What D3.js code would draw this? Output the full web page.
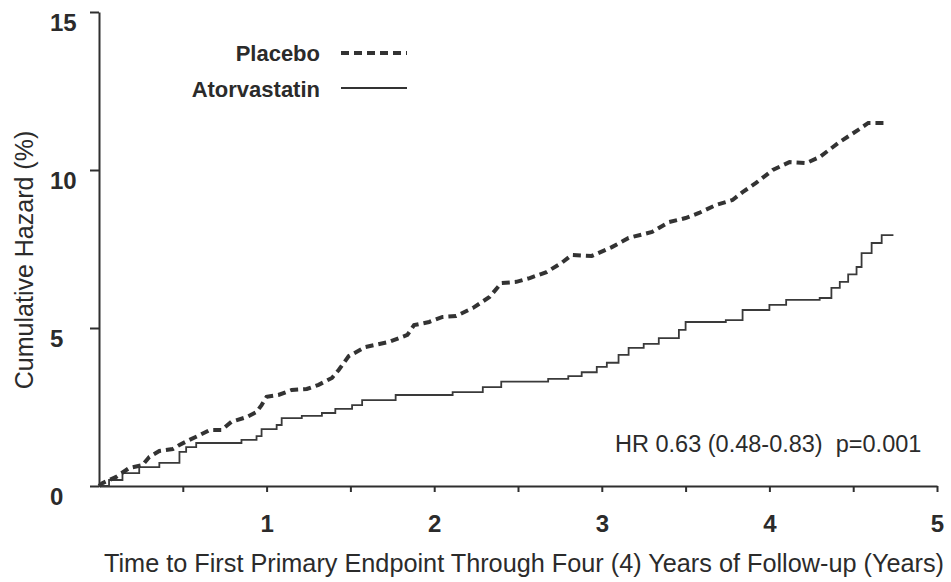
<!DOCTYPE html>
<html>
<head>
<meta charset="utf-8">
<script src="https://cdn.jsdelivr.net/npm/d3@7"></script>
<style>
  html, body { margin: 0; padding: 0; background: #fff; }
  svg { display: block; }
  text { font-family: "Liberation Sans", Arial, sans-serif; fill: #2b2b2b; }
</style>
</head>
<body>
<svg id="chart" width="951" height="582"></svg>
<script>
// ---- data ----
const placeboTime = [0, 0.02, 0.10, 0.18, 0.26, 0.30, 0.36, 0.44, 0.48, 0.54, 0.60, 0.66, 0.73, 0.79, 0.88, 0.94, 0.97, 1.00, 1.07, 1.15, 1.24, 1.31, 1.39, 1.43, 1.49, 1.59, 1.73, 1.84, 1.88, 1.97, 2.05, 2.13, 2.23, 2.33, 2.40, 2.49, 2.57, 2.67, 2.76, 2.82, 2.94, 3.06, 3.16, 3.30, 3.40, 3.50, 3.58, 3.68, 3.78, 3.84, 3.92, 4.02, 4.12, 4.22, 4.30, 4.42, 4.53, 4.59, 4.70];
const placeboValue = [0, 0.09, 0.28, 0.57, 0.66, 0.92, 1.11, 1.17, 1.30, 1.46, 1.61, 1.77, 1.77, 2.03, 2.18, 2.34, 2.56, 2.82, 2.88, 3.04, 3.07, 3.20, 3.42, 3.67, 4.11, 4.40, 4.56, 4.78, 5.09, 5.19, 5.35, 5.38, 5.63, 5.98, 6.42, 6.46, 6.58, 6.77, 7.06, 7.31, 7.28, 7.56, 7.85, 8.04, 8.35, 8.48, 8.64, 8.89, 9.05, 9.30, 9.59, 10.00, 10.25, 10.22, 10.41, 10.89, 11.27, 11.49, 11.49];

const atorvaTime = [0, 0.06, 0.14, 0.24, 0.36, 0.48, 0.52, 0.58, 0.85, 0.94, 0.97, 1.06, 1.09, 1.21, 1.33, 1.41, 1.51, 1.57, 1.77, 2.11, 2.29, 2.40, 2.68, 2.80, 2.88, 2.97, 3.03, 3.10, 3.16, 3.25, 3.34, 3.46, 3.50, 3.74, 3.84, 4.00, 4.10, 4.30, 4.37, 4.42, 4.47, 4.52, 4.55, 4.61, 4.67, 4.74];
const atorvaValue = [0, 0.19, 0.41, 0.60, 0.73, 1.08, 1.23, 1.36, 1.46, 1.58, 1.80, 1.93, 2.15, 2.22, 2.31, 2.44, 2.56, 2.72, 2.88, 2.97, 3.13, 3.30, 3.39, 3.48, 3.60, 3.77, 3.90, 4.15, 4.37, 4.50, 4.68, 4.94, 5.19, 5.25, 5.57, 5.73, 5.89, 5.95, 6.27, 6.46, 6.70, 6.93, 7.37, 7.69, 7.94, 7.94];

const seriesNames = ["Placebo", "Atorvastatin"];
const xTicks = [0.5, 1, 1.5, 2, 2.5, 3, 3.5, 4, 4.5, 5];
const xTickLabels = [1, 2, 3, 4, 5];
const yTicks = [0, 5, 10, 15];
const xTitle = "Time to First Primary Endpoint Through Four (4) Years of Follow-up (Years)";
const yTitle = "Cumulative Hazard (%)";
const annotation = "HR 0.63 (0.48-0.83)  p=0.001";

// ---- drawing ----
const svg = d3.select("#chart");
const ink = "#2f2f2f";

const x = d3.scaleLinear().domain([0, 5]).range([99, 937]);
const y = d3.scaleLinear().domain([0, 15]).range([486, 12]);

// y axis
const yAxis = svg.append("g")
  .attr("transform", `translate(${x(0)},0)`)
  .call(d3.axisLeft(y).tickValues(yTicks).tickSize(9).tickSizeOuter(0).tickPadding(0));
yAxis.select(".domain").attr("stroke", ink).attr("stroke-width", 2);
yAxis.selectAll(".tick line").attr("stroke", ink).attr("stroke-width", 2);
yAxis.selectAll(".tick text")
  .attr("x", -49).attr("dy", 0).attr("y", 18)
  .attr("text-anchor", "start")
  .style("font-family", "'Liberation Sans', Arial, sans-serif")
  .style("font-size", "24px").style("font-weight", "bold").attr("fill", "#2b2b2b");

// x axis
const xAxis = svg.append("g")
  .attr("transform", `translate(0,${y(0)})`)
  .call(d3.axisBottom(x).tickValues(xTicks).tickSize(6).tickSizeOuter(0)
    .tickFormat(d => xTickLabels.includes(d) ? d3.format("d")(d) : ""));
xAxis.select(".domain").attr("stroke", ink).attr("stroke-width", 2);
xAxis.selectAll(".tick line").attr("stroke", ink).attr("stroke-width", 2);
xAxis.selectAll(".tick text")
  .attr("y", 46).attr("dy", 0)
  .style("font-family", "'Liberation Sans', Arial, sans-serif")
  .style("font-size", "24px").style("font-weight", "bold").attr("fill", "#2b2b2b");

// lines
const placebo = placeboTime.map((t, i) => [t, placeboValue[i]]);
const atorva = atorvaTime.map((t, i) => [t, atorvaValue[i]]);

svg.append("path")
  .datum(atorva)
  .attr("fill", "none")
  .attr("stroke", "#3a3a3a")
  .attr("stroke-width", 1.8)
  .attr("d", d3.line().x(d => x(d[0])).y(d => y(d[1])).curve(d3.curveStepAfter));

svg.append("path")
  .datum(placebo)
  .attr("fill", "none")
  .attr("stroke", "#333")
  .attr("stroke-width", 4)
  .attr("stroke-dasharray", "8,5")
  .attr("d", d3.line().x(d => x(d[0])).y(d => y(d[1])).curve(d3.curveLinear));

// legend
const legend = svg.append("g");
const legendY = [61, 97];
const lineY = [53, 88];
seriesNames.forEach((name, i) => {
  legend.append("text")
    .attr("x", 320).attr("y", legendY[i])
    .attr("text-anchor", "end")
    .style("font-size", "22px").style("font-weight", "bold")
    .text(name);
  legend.append("line")
    .attr("x1", 341).attr("x2", 407)
    .attr("y1", lineY[i]).attr("y2", lineY[i])
    .attr("stroke", "#333")
    .attr("stroke-width", i === 0 ? 4 : 1.8)
    .attr("stroke-dasharray", i === 0 ? "8,5" : null);
});

// annotation
svg.append("text")
  .attr("x", 615).attr("y", 452)
  .style("font-size", "23.5px")
  .style("white-space", "pre")
  .attr("xml:space", "preserve")
  .text(annotation);

// axis titles
svg.append("text")
  .attr("x", 104).attr("y", 572)
  .attr("textLength", 840)
  .attr("lengthAdjust", "spacingAndGlyphs")
  .style("font-size", "25px")
  .text(xTitle);

svg.append("text")
  .attr("transform", "translate(33,260) rotate(-90)")
  .attr("text-anchor", "middle")
  .style("font-size", "25px")
  .text(yTitle);
</script>
</body>
</html>
